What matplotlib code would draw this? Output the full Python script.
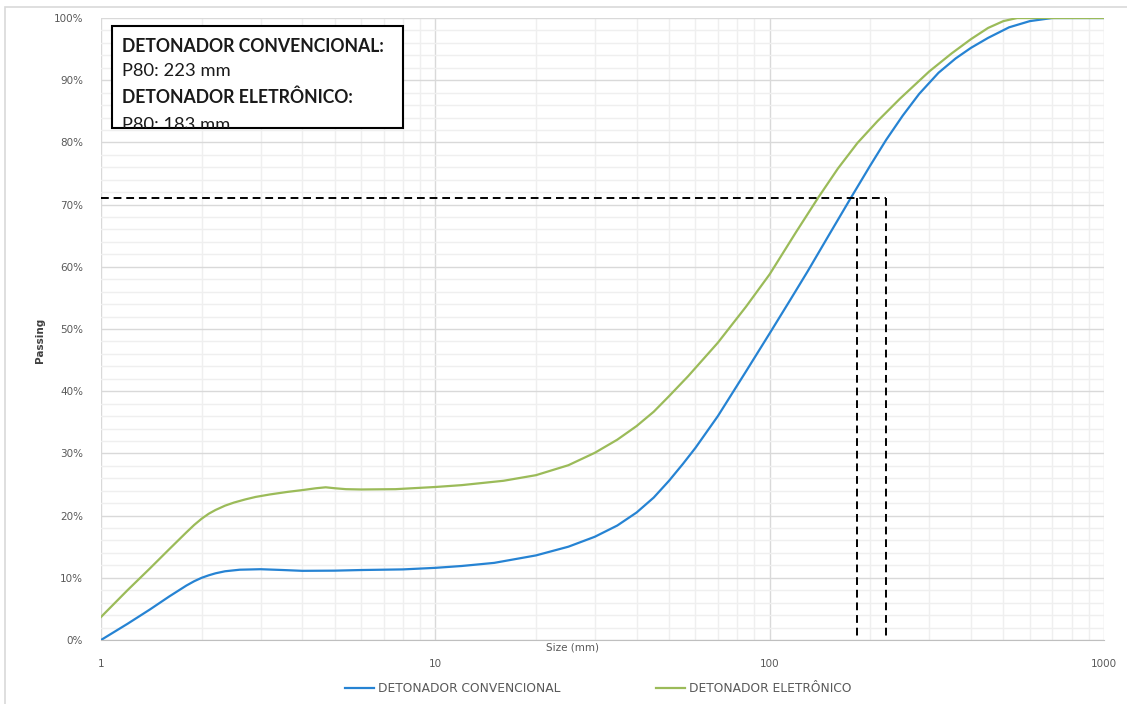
import matplotlib
matplotlib.use("Agg")
import matplotlib.pyplot as plt
from matplotlib.patches import Rectangle
from matplotlib.ticker import FixedLocator, FuncFormatter, NullFormatter

# Particle size distribution (size in mm, cumulative passing in %)
size_conv = [1, 1.2, 1.4, 1.6, 1.7, 1.8, 1.9, 2.0, 2.1, 2.2, 2.35, 2.6, 3.0, 3.5, 4.0, 5.0, 6.0,
             8.0, 10, 12, 15, 20, 25, 30, 35, 40, 45, 50, 55, 60, 70, 85, 100, 115, 130,
             150, 175, 200, 223, 250, 280, 320, 360, 400, 450, 520, 600, 700, 1000]
pass_conv = [0, 2.6, 4.9, 7.0, 7.9, 8.75, 9.45, 10.0, 10.4, 10.72, 11.05, 11.3, 11.38, 11.25, 11.12, 11.15, 11.25,
             11.35, 11.6, 11.9, 12.4, 13.6, 15.0, 16.6, 18.4, 20.5, 22.9, 25.6, 28.3, 30.9, 36.0, 43.2, 49.3, 54.6, 59.3,
             65.0, 71.1, 76.3, 80.4, 84.3, 87.8, 91.2, 93.5, 95.2, 96.8, 98.5, 99.5, 100, 100]

size_elet = [1, 1.2, 1.4, 1.6, 1.8, 1.9, 2.0, 2.1, 2.2, 2.35, 2.5, 2.7, 2.9, 3.2, 3.6, 4.0, 4.4,
             4.7, 5.0, 5.4, 6.0, 7.6, 10, 12, 16, 20, 25, 30, 35, 40, 45, 50, 57, 70, 85,
             100, 120, 140, 160, 183, 210, 245, 300, 350, 400, 450, 500, 550, 1000]
pass_elet = [3.7, 8.0, 11.5, 14.6, 17.3, 18.5, 19.5, 20.3, 20.9, 21.6, 22.1, 22.6, 23.0, 23.4, 23.8, 24.1, 24.4,
             24.55, 24.4, 24.25, 24.2, 24.25, 24.6, 24.9, 25.6, 26.5, 28.1, 30.1, 32.2, 34.4, 36.7, 39.2, 42.4, 47.8, 53.6,
             58.8, 65.6, 71.2, 75.8, 79.9, 83.4, 87.0, 91.4, 94.3, 96.6, 98.4, 99.5, 100, 100]

series_names = ["DETONADOR CONVENCIONAL", "DETONADOR ELETRÔNICO"]
p80_values = [223, 183]          # mm
ref_level = 71                   # % passing for the guide lines

y_ticks = [0, 10, 20, 30, 40, 50, 60, 70, 80, 90, 100]
x_ticks = [1, 10, 100, 1000]

BLUE = "#2683d3"
GREEN = "#9bbb59"
TXT = "#595959"

W, H = 1127, 704
fig = plt.figure(figsize=(W / 100, H / 100), dpi=100)
fig.patch.set_facecolor("white")

# chart frame
fig.add_artist(Rectangle((5 / W, -0.01), 1.2, 1 - 7 / H + 0.01, transform=fig.transFigure,
                         fill=False, edgecolor="#d9d9d9", linewidth=1.2))

ax = fig.add_axes([101 / W, 1 - 640 / H, (1104 - 101) / W, (640 - 18) / H])
ax.set_xscale("log")
ax.set_xlim(1, 1000)
ax.set_ylim(0, 100)

ax.set_yticks(y_ticks)
ax.yaxis.set_minor_locator(FixedLocator([v for v in range(0, 101, 2) if v % 10]))
ax.yaxis.set_major_formatter(FuncFormatter(lambda v, p: f"{int(v)}%"))
ax.set_xticks(x_ticks)
ax.xaxis.set_major_formatter(FuncFormatter(lambda v, p: f"{int(v)}"))
ax.xaxis.set_minor_formatter(NullFormatter())

ax.grid(which="major", color="#d9d9d9", linewidth=1.0)
ax.grid(which="minor", color="#efefef", linewidth=1.0)
ax.set_axisbelow(True)
for s in ["top", "right", "left"]:
    ax.spines[s].set_visible(False)
ax.spines["bottom"].set_color("#bfbfbf")
ax.tick_params(which="both", length=0)
ax.tick_params(axis="y", pad=13, labelsize=7.5, labelcolor=TXT)
ax.tick_params(axis="x", pad=14, labelsize=7.5, labelcolor=TXT)

ax.plot(size_conv, pass_conv, color=BLUE, linewidth=1.6, label=series_names[0], zorder=3,
        solid_joinstyle="round")
ax.plot(size_elet, pass_elet, color=GREEN, linewidth=1.6, label=series_names[1], zorder=3,
        solid_joinstyle="round")

# guide lines
dash = dict(color="black", linewidth=1.4, dashes=(4, 2.5), zorder=4)
ax.plot([1, max(p80_values)], [ref_level, ref_level], **dash)
for v in p80_values:
    ax.plot([v, v], [ref_level, 0], **dash)

fig.text(572 / W, 1 - 648 / H, "Size (mm)", ha="center", va="center", fontsize=7.5, color=TXT)
fig.text(40 / W, 1 - 340 / H, "Passing", ha="center", va="center", rotation=90,
         fontsize=7.5, color="#404040", fontweight="bold")

leg = fig.legend(loc="center", bbox_to_anchor=(598 / W, 1 - 689 / H), ncol=2, frameon=False,
                 fontsize=8.8, handlelength=2.4, handletextpad=0.3, columnspacing=7.8)
for t in leg.get_texts():
    t.set_color(TXT)

# annotation box with P80 values
box = Rectangle((112 / W, 1 - 128 / H), (403 - 112) / W, (128 - 26) / H, transform=fig.transFigure,
                facecolor="white", edgecolor="black", linewidth=1.5, zorder=10)
fig.add_artist(box)
lines = [
    (f"{series_names[0]}:", "bold", 12.7, 46),
    (f"P80: {p80_values[0]} mm", "normal", 13.2, 71),
    (f"{series_names[1]}:", "bold", 12.7, 97),
    (f"P80: {p80_values[1]} mm", "normal", 13.2, 125),
]
for txt, wt, fs, yp in lines:
    t = fig.text(122 / W, 1 - yp / H, txt, ha="left", va="center", fontsize=fs,
                 fontweight=wt, family="Lato", color="#1a1a1a", zorder=11)
    t.set_clip_path(box)

fig.savefig("out.png", dpi=100)
